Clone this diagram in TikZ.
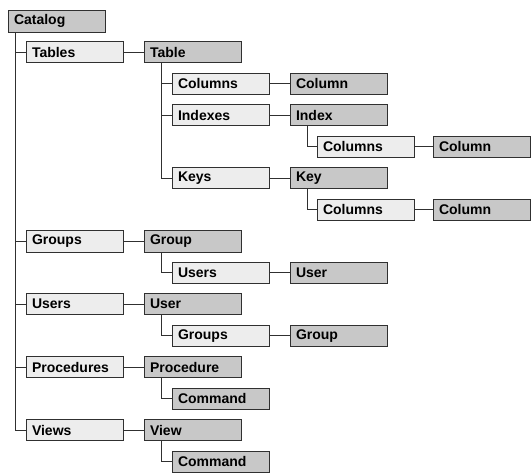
\documentclass[tikz,border=0pt]{standalone}
\usepackage{fontspec}
\setmainfont{Liberation Sans}
\usepackage{xcolor}
\usepackage{tikz}
\usetikzlibrary{positioning}

\definecolor{objgray}{HTML}{C8C8C8}
\definecolor{collgray}{HTML}{EDEDED}
\definecolor{edgegray}{HTML}{303030}

\begin{document}
\begin{tikzpicture}[x=0.75pt, y=-0.75pt,
            box/.style={draw=edgegray, line width=0.75pt, rectangle, anchor=north west, outer sep=0pt,
                        inner xsep=4.5pt, text width=63.75pt, align=left, minimum height=15.75pt,
                        font=\fontsize{10.5}{12}\selectfont\bfseries},
            obj/.style={box, fill=objgray},
            coll/.style={box, fill=collgray},
            link/.style={draw=edgegray, line width=0.75pt}]
            \useasboundingbox (0,0) rectangle (531,472);

            \node[obj] (catalog) at (8,10) {Catalog};
            \node[coll] (tables) at (26,41.5) {Tables};
            \node[obj] (table) at (144,41.5) {Table};
            \node[coll] (tcolumns) at (172,73) {Columns};
            \node[obj] (tcolumn) at (290,73) {Column};
            \node[coll] (indexes) at (172,104.5) {Indexes};
            \node[obj] (index) at (290,104.5) {Index};
            \node[coll] (icolumns) at (317,136) {Columns};
            \node[obj] (icolumn) at (433,136) {Column};
            \node[coll] (keys) at (172,167.5) {Keys};
            \node[obj] (key) at (290,167.5) {Key};
            \node[coll] (kcolumns) at (317,199) {Columns};
            \node[obj] (kcolumn) at (433,199) {Column};
            \node[coll] (groups) at (26,230.5) {Groups};
            \node[obj] (group) at (144,230.5) {Group};
            \node[coll] (gusers) at (172,262) {Users};
            \node[obj] (guser) at (290,262) {User};
            \node[coll] (users) at (26,293.5) {Users};
            \node[obj] (user) at (144,293.5) {User};
            \node[coll] (ugroups) at (172,325) {Groups};
            \node[obj] (ugroup) at (290,325) {Group};
            \node[coll] (procedures) at (26,356.5) {Procedures};
            \node[obj] (procedure) at (144,356.5) {Procedure};
            \node[obj] (pcommand) at (172,388) {Command};
            \node[coll] (views) at (26,419.5) {Views};
            \node[obj] (view) at (144,419.5) {View};
            \node[obj] (vcommand) at (172,451) {Command};

            % collection -- item
            \draw[link] (tables) -- (table);
            \draw[link] (tcolumns) -- (tcolumn);
            \draw[link] (indexes) -- (index);
            \draw[link] (icolumns) -- (icolumn);
            \draw[link] (keys) -- (key);
            \draw[link] (kcolumns) -- (kcolumn);
            \draw[link] (groups) -- (group);
            \draw[link] (gusers) -- (guser);
            \draw[link] (users) -- (user);
            \draw[link] (ugroups) -- (ugroup);
            \draw[link] (procedures) -- (procedure);
            \draw[link] (views) -- (view);

            % tree branches
            \foreach \child in {tables, groups, users, procedures, views}
                \draw[link] ([xshift=5.25pt]catalog.south west) |- (\child.west);
            \foreach \child in {tcolumns, indexes, keys}
                \draw[link] ([xshift=12.75pt]table.south west) |- (\child.west);
            \draw[link] ([xshift=12.75pt]index.south west) |- (icolumns.west);
            \draw[link] ([xshift=12.75pt]key.south west) |- (kcolumns.west);
            \draw[link] ([xshift=12.75pt]group.south west) |- (gusers.west);
            \draw[link] ([xshift=12.75pt]user.south west) |- (ugroups.west);
            \draw[link] ([xshift=12.75pt]procedure.south west) |- (pcommand.west);
            \draw[link] ([xshift=12.75pt]view.south west) |- (vcommand.west);
        \end{tikzpicture}
\end{document}
